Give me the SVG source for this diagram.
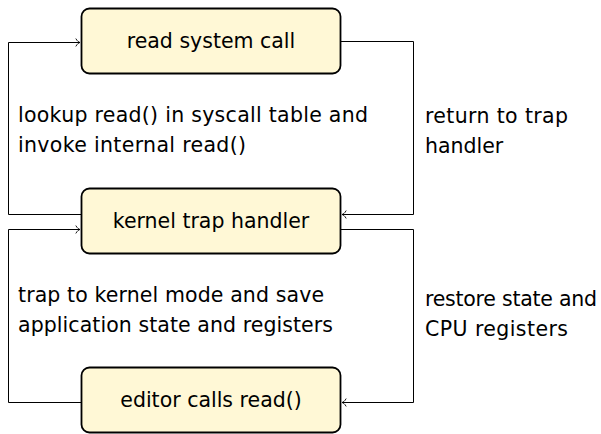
<svg xmlns="http://www.w3.org/2000/svg" width="601" height="434" viewBox="0 0 601 434">
  <defs>
    <marker id="tip" markerUnits="userSpaceOnUse" markerWidth="10" markerHeight="10" viewBox="-6 -5 8 10" refX="0" refY="0" orient="auto" overflow="visible">
      <path d="M-4,-3.6 C-2.6,-1.2 -1.2,-0.3 0,0 C-1.2,0.3 -2.6,1.2 -4,3.6" fill="none" stroke="#000" stroke-width="0.9" stroke-linecap="round"/>
    </marker>
    <style>
      .box { fill: #fff8d6; stroke: #000; stroke-width: 1.8; }
      .node-text { font-family: "DejaVu Sans", sans-serif; font-size: 20.5px; fill: #000; text-anchor: middle; }
      .label { font-family: "DejaVu Sans", sans-serif; font-size: 20.5px; fill: #000; }
      .wire { fill: none; stroke: #000; stroke-width: 1; }
    </style>
  </defs>
  <rect width="601" height="434" fill="#fff"/>

  <!-- connectors -->
  <g id="connectors">
    <!-- kernel trap handler -> read system call -->
    <path class="wire" d="M81,214.5 H8.5 V42.5 H80" marker-end="url(#tip)"/>
    <!-- read system call -> kernel trap handler -->
    <path class="wire" d="M341,41.5 H413.5 V214.5 H342" marker-end="url(#tip)"/>
    <!-- editor calls read() -> kernel trap handler -->
    <path class="wire" d="M81,402.5 H8.5 V229.5 H80" marker-end="url(#tip)"/>
    <!-- kernel trap handler -> editor calls read() -->
    <path class="wire" d="M341,229.5 H413.5 V402.5 H342" marker-end="url(#tip)"/>

    <text class="label" x="18" y="122" textLength="350" lengthAdjust="spacing">lookup read() in syscall table and</text>
    <text class="label" x="18" y="152" textLength="228" lengthAdjust="spacing">invoke internal read()</text>
    <text class="label" x="425" y="123" textLength="143" lengthAdjust="spacing">return to trap</text>
    <text class="label" x="425" y="153">handler</text>
    <text class="label" x="18" y="302" textLength="306" lengthAdjust="spacing">trap to kernel mode and save</text>
    <text class="label" x="18" y="332" textLength="315" lengthAdjust="spacing">application state and registers</text>
    <text class="label" x="425" y="306" textLength="172" lengthAdjust="spacing">restore state and</text>
    <text class="label" x="425" y="336" textLength="143" lengthAdjust="spacing">CPU registers</text>
  </g>

  <g id="read-system-call">
    <rect class="box" x="81.5" y="8.5" width="259" height="65" rx="8"/>
    <text class="node-text" x="211" y="48">read system call</text>
  </g>

  <g id="kernel-trap-handler">
    <rect class="box" x="81.5" y="188.5" width="259" height="65" rx="8"/>
    <text class="node-text" x="211" y="228">kernel trap handler</text>
  </g>

  <g id="editor-calls-read">
    <rect class="box" x="81.5" y="367.5" width="259" height="65" rx="8"/>
    <text class="node-text" x="211" y="407">editor calls read()</text>
  </g>
</svg>
